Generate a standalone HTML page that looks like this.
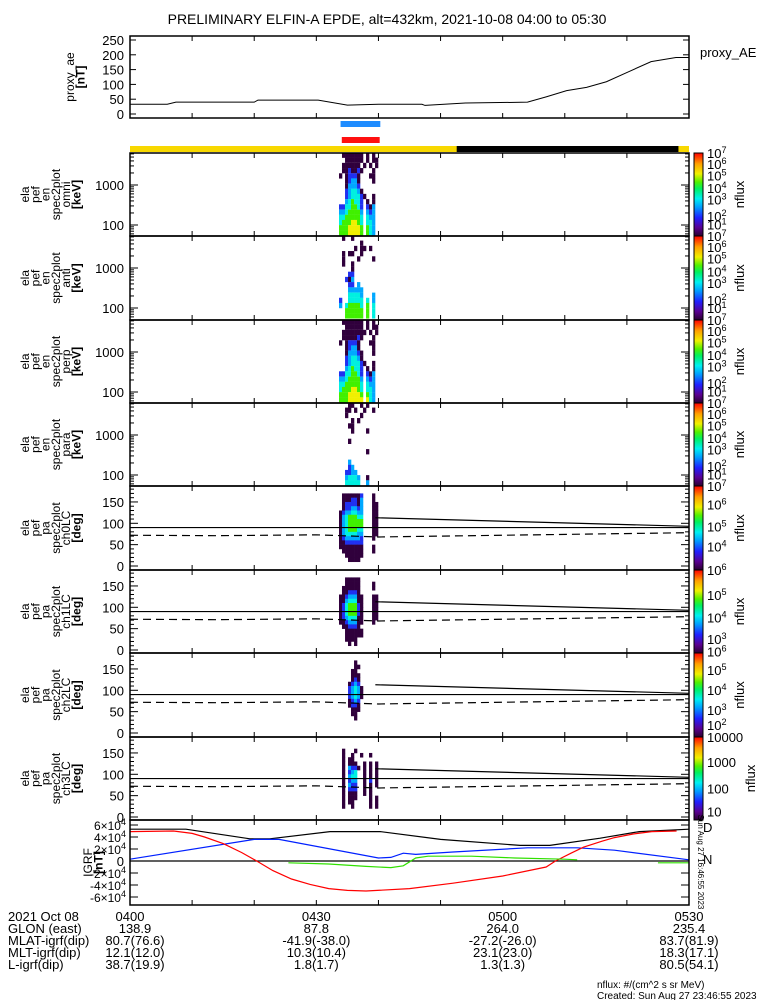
<!DOCTYPE html>
<html><head><meta charset="utf-8">
<style>
html,body{margin:0;padding:0;background:#fff;}
svg{display:block;font-family:"Liberation Sans",sans-serif;}
text{fill:#000;}
</style></head>
<body>
<svg id="chart" width="775" height="1000" viewBox="0 0 775 1000" xmlns="http://www.w3.org/2000/svg">
<rect x="0" y="0" width="775" height="1000" fill="#fff"/>
<text x="387" y="24" font-size="14" text-anchor="middle">PRELIMINARY ELFIN-A EPDE, alt=432km, 2021-10-08 04:00 to 05:30</text>
<g id="g"></g>
</svg>
<script>
// ---------- DATA ----------
const aeTimes = [0,6,7.4,20,20.6,30.3,35,40,47,47.5,54,64,67,70.3,73.5,76.7,80.3,83.9,87.9,90];
const aeValues = [33,33,40,40,47,47,30,33,33,29,37,40,58,79,90,109,143,177,191,191];
const aeTicks = [0,50,100,150,200,250];

const igrfTimes = [0,9,19.3,22.5,32.2,40.3,50,62.8,67.6,75.7,82,90];
const igrfTotal = [5.3,5.3,3.7,3.7,4.9,4.9,3.6,2.6,2.6,3.8,4.9,5.3];
const blueTimes = [0,20,24,40,42,44,46,52,64,72,78,90];
const blueValues = [0.3,3.6,3.6,0.5,0.6,1.3,1.1,1.5,2.2,2.2,1.8,0.2];
const redTimes = [0,7,10,12,15,18,20.4,23,26,29,32,35,38,45,52,60,67,68.5,71,73,76,78,81,84,88];
const redValues = [4.9,5.0,4.6,4.0,2.9,1.4,0,-1.6,-3,-3.9,-4.6,-4.9,-5.0,-4.6,-3.7,-2.5,-1.0,0,1.3,2.3,3.3,3.9,4.5,4.9,5.0];
const greenTimes = [25.5,32,38,42,44,46,48,55,62,70,72,null,85,90];
const greenValues = [-0.3,-0.5,-0.9,-1.1,-0.8,0.5,0.8,0.8,0.5,0.3,0.2,null,-0.3,-0.3];
const igrfTicks = [-6,-4,-2,0,2,4,6];

const timeTicks = [0,10,20,30,40,50,60,70,80,90];
const timeLabels = ["0400","0430","0500","0530"];
const timeLabelMin = [0,30,60,90];
const ephemRows = ["2021 Oct 08","GLON (east)","MLAT-igrf(dip)","MLT-igrf(dip)","L-igrf(dip)"];
const ephemVals = [
 ["138.9","87.8","264.0","235.4"],
 ["80.7(76.6)","-41.9(-38.0)","-27.2(-26.0)","83.7(81.9)"],
 ["12.1(12.0)","10.3(10.4)","23.1(23.0)","18.3(17.1)"],
 ["38.7(19.9)","1.8(1.7)","1.3(1.3)","80.5(54.1)"]];

const specTimes = [33.65,34.13,34.62,35.1,35.58,36.07,36.55,37.03,37.52,38.0,38.48,38.97,39.45];
const energyBins = [5600,4200,3100,2300,1700,1270,940,700,520,385,285,210,156,116,86,64];
const omniRows = ["0111111101010","0011111101011","0111111010101","0112112100010","1012221000110","0012331000010","0013332000000","0023443100000","0023444210010","0034544201010","2244554202130","3345555303230","4455555404330","4555665404430","5556666505430","5556666505430"];
const antiRows = ["0100100000000","0000000100000","0000010110100","0101100100000","0100001000010","0100100000000","0000100000000","0002200000000","0021300000000","0002203000000","0003333300000","0004444300030","2004444404030","3045555405040","0055555505040","0055555505040"];
const perpRows = ["0111111101010","0011111101011","0111111110101","0111112100010","1012221000110","0012331000010","0013332100010","0023443100000","0023444210010","0034544201010","2244554202130","3345555303230","4455555404330","4555665404430","5556666505430","5556666606430"];
const paraRows = ["0001100101000","0011010010010","0010000100000","0000101000000","0001100000000","0000100001000","0000000000000","0001000000000","0000000000000","0000000001000","0000000000000","0003000000000","0002300000000","0022330000000","0034443001000","0044444003000"];
const paBins = [175,165,155,145,135,125,115,105,95,85,75,65,55,45,35,25,15,5];
const ch0Rows = ["0000000000000","0111111200010","0111221300010","0122221300011","0122332300011","1233443300011","1345554400011","1345555500011","1345555500011","1345554400011","1344443300011","1233333200010","1122222200000","1111111100010","0111111100010","0011111100000","0001111000000","0000000000000"];
const ch1Rows = ["0000000000000","0011111000000","0011111000010","0111111000010","0112221000000","1123331100011","1134441100011","1245552100011","1245552100011","1245552100011","1234441100011","1123331100010","0112221000000","0011111100000","0011111100000","0011110000000","0001010000000","0000000000000"];
const ch2Rows = ["0000000000000","0000010000000","0000011000000","0000110000000","0000111000000","0000121000000","0001232000000","0002343100000","0002343100000","0002343100000","0001232000000","0001221000000","0000111000000","0000110000000","0000010000000","0000000000000","0000000000000","0000000000000"];
const ch3Rows = ["0000000000000","0000000000000","0100010000000","0100100100100","0101100000000","0101110010101","0103221010101","0102340010101","0103440010101","0102330010201","0103220010101","0102220010100","0101110010100","0101110000101","0101100000101","0100100000101","0000000000000","0000000000000"];
const lossConeTimes = [39.5,90];
const lossConeValues = [113,93];
const dashTimes = [0,14,30,40,60,90];
const dashValues = [72,71,73,68,72,78];

// ---------- DRAWING ----------
const NS="http://www.w3.org/2000/svg";
const G=document.getElementById('g');
const X0=130, X1=689;
function xs(t){return X0+(t/90)*(X1-X0);}
function el(tag,attrs,parent){const e=document.createElementNS(NS,tag);for(const k in attrs)e.setAttribute(k,attrs[k]);(parent||G).appendChild(e);return e;}
function txt(x,y,s,size,anchor,parent){const e=el('text',{x:x,y:y,'font-size':size||12,'text-anchor':anchor||'start'},parent);e.textContent=s;return e;}
function pow10(x,y,exp,size,anchor,parent){const e=el('text',{x:x,y:y,'font-size':size,'text-anchor':anchor||'start'},parent);
  const a=document.createElementNS(NS,'tspan');a.textContent='10';e.appendChild(a);
  const b=document.createElementNS(NS,'tspan');b.setAttribute('dy','-5');b.setAttribute('font-size',size*0.7);b.textContent=exp;e.appendChild(b);return e;}
const levelColors=["none","#30003c","#2030f0","#00a8ff","#00f0e0","#40f000","#f0f000"];

function frame(top,bot,name){
  const g=el('g',{});
  
  
  el('rect',{x:X0,y:top,width:X1-X0,height:bot-top,fill:'none',stroke:'#000','stroke-width':1.5},g);
  for(const t of timeTicks){el('line',{x1:xs(t),x2:xs(t),y1:bot,y2:bot-5,stroke:'#000'},g);el('line',{x1:xs(t),x2:xs(t),y1:top,y2:top+5,stroke:'#000'},g);}
  return g;
}
function leftLabel(lines,top,bot,x0,name){
  const g=el('g',{});
  
  
  const cy=(top+bot)/2;
  lines.forEach((s,i)=>{const x=x0+i*10.3;const t=txt(0,0,s,12,'middle',g);t.setAttribute('transform','translate('+x+','+cy+') rotate(-90)');if(s[0]==='[')t.setAttribute('font-weight','bold');});
}
function colorbar(top,bot,labels,fr,name){
  const g=el('g',{});
  
  
  el('rect',{x:694,y:top,width:9,height:bot-top,fill:'url(#cbgrad)',stroke:'#000','stroke-width':1},g);
  labels.forEach((l,i)=>{const y=top+fr[i]*(bot-top)+5;
    if(l.indexOf('e')===0) pow10(707,y,l.slice(1),13,'start',g); else txt(707,y,l,13,'start',g);});
  const t=txt(0,0,'nflux',13,'middle',g);t.setAttribute('transform','translate('+(labels[0]==='10000'?755:744)+','+((top+bot)/2)+') rotate(-90)');
}
const defs=el('defs',{});
const grad=el('linearGradient',{id:'cbgrad',x1:0,y1:1,x2:0,y2:0},defs);
[["0","#2a0030"],["0.1","#5a0090"],["0.22","#2020ff"],["0.35","#00a0ff"],["0.45","#00f0f0"],["0.57","#00f060"],["0.65","#50f000"],["0.75","#f0f000"],["0.87","#ffa000"],["1","#ff0000"]].forEach(s=>el('stop',{offset:s[0],'stop-color':s[1]},grad));

// ---- proxy AE ----
(function(){
 const top=36,bot=118; const ys=v=>114-v*0.296;
 frame(top,bot,'proxy-ae-panel');
 const g=el('g',{});
 
 
 aeTicks.forEach(v=>{el('line',{x1:X0,x2:X0+6,y1:ys(v),y2:ys(v),stroke:'#000'},g);el('line',{x1:X1,x2:X1-6,y1:ys(v),y2:ys(v),stroke:'#000'},g);txt(124,ys(v)+5,String(v),13,'end',g);});
 const p=el('polyline',{points:aeTimes.map((t,i)=>xs(t)+','+ys(aeValues[i])).join(' '),fill:'none',stroke:'#000','stroke-width':1});
 
 
 leftLabel(['proxy_ae','[nT]'],top,bot,74,'proxy-ae-y-title');
 const l=txt(700,57,'proxy_AE',13,'start');
 
 
})();

// ---- indicator bars ----
(function(){
 const b=el('rect',{x:xs(33.9),y:121,width:xs(40.3)-xs(33.9),height:6,fill:'#1e8cff'});
 
 
 const r=el('rect',{x:xs(34.1),y:137,width:xs(40.2)-xs(34.1),height:6,fill:'#ff1010'});
 
 
 const y=el('rect',{x:X0,y:146,width:X1-X0,height:6,fill:'#f8d800'});
 
 
 const k=el('rect',{x:xs(52.6),y:146,width:xs(88.3)-xs(52.6),height:6,fill:'#000'});
 
 
})();

// ---- energy spectrograms ----
const enPanels=[[153,236,omniRows,'omni'],[236,320,antiRows,'anti'],[320,403,perpRows,'perp'],[403,486,paraRows,'para']];
const cbLab1=['e7','e6','e5','e4','e3','e2','e1'];
const cbFr1=[0.0,0.13,0.27,0.42,0.56,0.76,0.86];
enPanels.forEach(pp=>{
 const top=pp[0],bot=pp[1],rows=pp[2],nm=pp[3];
 const ys=E=>top+32-40*(Math.log10(E)-3);
 const g=el('g',{});
 
 
 const dt=specTimes[1]-specTimes[0];
 rows.forEach((r,ri)=>{const E=energyBins[ri];const h=40*Math.log10(energyBins[0]/energyBins[1]);
  for(let c=0;c<r.length;c++){const lv=+r[c];if(!lv)continue;
   const cell=el('rect',{x:xs(specTimes[c]),y:ys(E)-h/2,width:xs(specTimes[c]+dt)-xs(specTimes[c])+0.3,height:h+0.3,fill:levelColors[lv]},g);
   
   }});
 frame(top,bot,'energy-panel-'+nm);
 const ax=el('g',{});
 
 
 [100,1000].forEach(v=>{txt(124,ys(v)+5,String(v),13,'end',ax);el('line',{x1:X0,x2:X0+8,y1:ys(v),y2:ys(v),stroke:'#000'},ax);el('line',{x1:X1,x2:X1-8,y1:ys(v),y2:ys(v),stroke:'#000'},ax);});
 [60,70,80,90,200,300,400,500,600,700,800,900,2000,3000,4000,5000,6000].forEach(v=>{const y=ys(v);if(y>top&&y<bot){el('line',{x1:X0,x2:X0+4,y1:y,y2:y,stroke:'#000'},ax);el('line',{x1:X1,x2:X1-4,y1:y,y2:y,stroke:'#000'},ax);}});
 leftLabel(['ela','pef','en','spec2plot',nm,'[keV]'],top,bot,29,'energy-y-title-'+nm);
 colorbar(top,bot,cbLab1,cbFr1,'colorbar-'+nm);
});

// ---- pitch-angle spectrograms ----
const paPanels=[[486,570,ch0Rows,'ch0LC',['e7','e6','e5','e4'],[0.0,0.22,0.48,0.72]],
 [570,653,ch1Rows,'ch1LC',['e6','e5','e4','e3'],[0.0,0.3,0.57,0.83]],
 [653,737,ch2Rows,'ch2LC',['e6','e5','e4','e3','e2'],[-0.02,0.2,0.44,0.68,0.86]],
 [737,820,ch3Rows,'ch3LC',['10000','1000','100','10'],[0.0,0.3,0.62,0.9]]];
paPanels.forEach(pp=>{
 const top=pp[0],bot=pp[1],rows=pp[2],nm=pp[3];
 const ys=a=>top+80-a*0.427;
 const g=el('g',{});
 
 
 const dt=specTimes[1]-specTimes[0];
 rows.forEach((r,ri)=>{const a=paBins[ri];
  for(let c=0;c<r.length;c++){const lv=+r[c];if(!lv)continue;
   const cell=el('rect',{x:xs(specTimes[c]),y:ys(a+5),width:xs(specTimes[c]+dt)-xs(specTimes[c])+0.3,height:10*0.427+0.3,fill:levelColors[lv]},g);
   
   }});
 const l90=el('line',{x1:X0,x2:X1,y1:ys(90),y2:ys(90),stroke:'#000','stroke-width':1.2});
 
 
 const lc=el('polyline',{points:lossConeTimes.map((t,i)=>xs(t)+','+ys(lossConeValues[i])).join(' '),fill:'none',stroke:'#000','stroke-width':1.2});
 
 
 const dl=el('polyline',{points:dashTimes.map((t,i)=>xs(t)+','+ys(dashValues[i])).join(' '),fill:'none',stroke:'#000','stroke-width':1.2,'stroke-dasharray':'8,5'});
 
 
 frame(top,bot,'pa-panel-'+nm);
 const ax=el('g',{});
 
 
 [0,50,100,150].forEach(v=>{txt(124,ys(v)+5,String(v),13,'end',ax);el('line',{x1:X0,x2:X0+8,y1:ys(v),y2:ys(v),stroke:'#000'},ax);el('line',{x1:X1,x2:X1-8,y1:ys(v),y2:ys(v),stroke:'#000'},ax);});
 [10,20,30,40,60,70,80,90,110,120,130,140,160,170,180].forEach(v=>{const y=ys(v);if(y>top){el('line',{x1:X0,x2:X0+4,y1:y,y2:y,stroke:'#000'},ax);el('line',{x1:X1,x2:X1-4,y1:y,y2:y,stroke:'#000'},ax);}});
 leftLabel(['ela','pef','pa','spec2plot',nm,'[deg]'],top,bot,29,'pa-y-title-'+nm);
 colorbar(top,bot,pp[4],pp[5],'colorbar-'+nm);
});

// ---- IGRF ----
(function(){
 const top=820,bot=905; const ys=v=>861-6*v;
 const zl=el('line',{x1:X0,x2:X1,y1:ys(0),y2:ys(0),stroke:'#000','stroke-width':1.2});
 
 
 function line(ts,vs,color,name){
   let segs=[],cur=[];
   ts.forEach((t,i)=>{if(t===null){segs.push(cur);cur=[];}else cur.push(xs(t)+','+ys(vs[i]));});segs.push(cur);
   segs.forEach(s=>{const p=el('polyline',{points:s.join(' '),fill:'none',stroke:color,'stroke-width':1.2});
     
     });
 }
 line(igrfTimes,igrfTotal,'#000','igrf-total-line');
 line(blueTimes,blueValues,'#0020ff','igrf-blue-line');
 line(redTimes,redValues,'#ff0000','igrf-red-line');
 line(greenTimes,greenValues,'#30e000','igrf-green-line');
 frame(top,bot,'igrf-panel');
 const ax=el('g',{});
 
 
 igrfTicks.forEach(v=>{const y=ys(v);el('line',{x1:X0,x2:X0+8,y1:y,y2:y,stroke:'#000'},ax);el('line',{x1:X1,x2:X1-8,y1:y,y2:y,stroke:'#000'},ax);
  if(v===0)txt(124,y+5,'0',13,'end',ax);
  else{const e=el('text',{x:126,y:y+5,'font-size':12,'text-anchor':'end'},ax);
   const a=document.createElementNS(NS,'tspan');a.textContent=(v<0?'-':'')+Math.abs(v)+'×10';e.appendChild(a);
   const b=document.createElementNS(NS,'tspan');b.setAttribute('dy','-5');b.setAttribute('font-size','9');b.textContent='4';e.appendChild(b);}});
 leftLabel(['IGRF','[nT]'],top,bot,92,'igrf-y-title');
 const d=txt(703,832,'D',13,'start');d.setAttribute('fill','#ff0000');
 
 
 const n=txt(703,864,'N',13,'start');n.setAttribute('fill','#0020ff');
 
 
 const s=txt(0,0,'Sun Aug 27 16:46:55 2023',8,'middle');s.setAttribute('transform','translate(698,862) rotate(90)');
 
 
})();

// ---- ephemeris text ----
(function(){
 const g=el('g',{});
 
 
 const rowY=[921,933,945,957,969];
 ephemRows.forEach((r,i)=>txt(8,rowY[i],r,13,'start',g));
 timeLabels.forEach((s,i)=>txt(xs(timeLabelMin[i]),rowY[0],s,13,'middle',g));
 ephemVals.forEach((vals,ri)=>vals.forEach((v,ci)=>txt(xs(timeLabelMin[ci])+(ci===0?5:0),rowY[ri+1],v,13,'middle',g)));
 const f1=txt(597,988,'nflux: #/(cm^2 s sr MeV)',10,'start');
 
 
 const f2=txt(597,999,'Created: Sun Aug 27 23:46:55 2023',10,'start');
 
 
})();
</script>
</body></html>
